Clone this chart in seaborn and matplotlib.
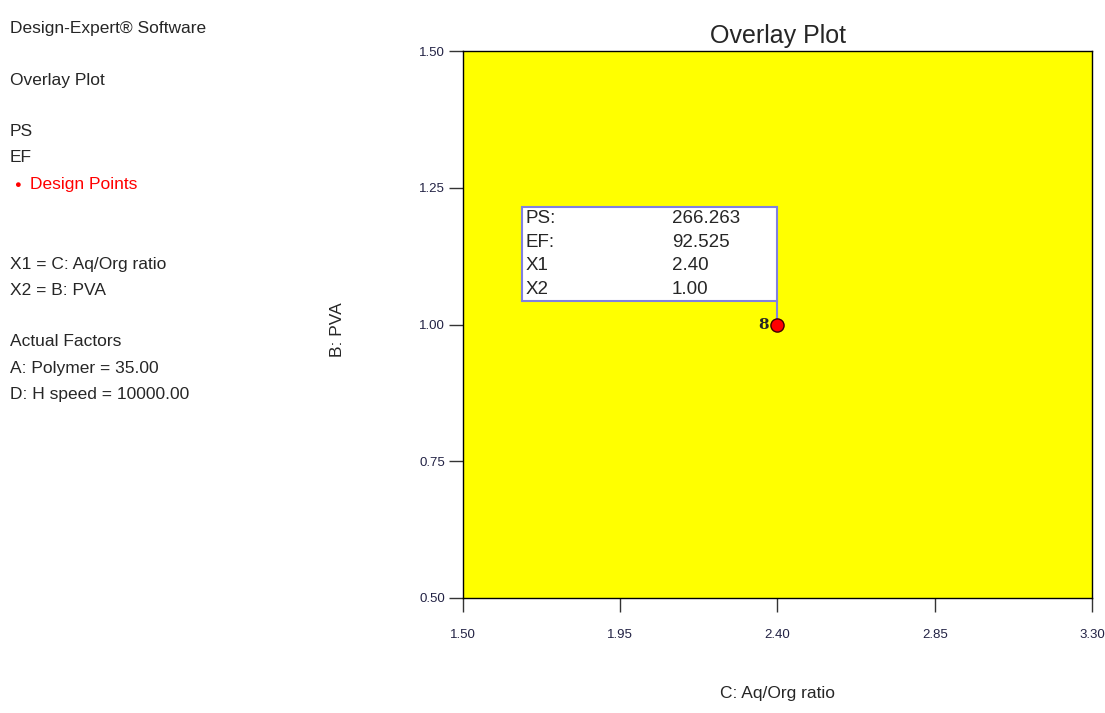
import numpy as np
import pandas as pd
import matplotlib
matplotlib.use("Agg")
import matplotlib.pyplot as plt
import matplotlib.font_manager as fm
import seaborn as sns
from matplotlib.patches import Rectangle

# data
DESIGN_X      = [2.40]
DESIGN_Y      = [1.00]
DESIGN_LABELS = ["8"]
X_TICKS = [1.50, 1.95, 2.40, 2.85, 3.30]
Y_TICKS = [0.50, 0.75, 1.00, 1.25, 1.50]
BOX_NAMES  = ["PS:", "EF:", "X1", "X2"]
BOX_VALUES = ["266.263", "92.525", "2.40", "1.00"]
SIDE_LINES = ["Design-Expert\u00ae Software", "", "Overlay Plot", "", "PS", "EF"]
FACTOR_LINES = ["X1 = C: Aq/Org ratio", "X2 = B: PVA", "",
                "Actual Factors", "A: Polymer = 35.00", "D: H speed = 10000.00"]

sns.set_style("white")
names = {f.name for f in fm.fontManager.ttflist}
FONT = "Liberation Sans Narrow" if "Liberation Sans Narrow" in names else "Liberation Sans"
plt.rcParams["font.family"] = [FONT, "DejaVu Sans"]
FS = 12.5

df = pd.DataFrame({"x": DESIGN_X, "y": DESIGN_Y, "label": DESIGN_LABELS})

fig = plt.figure(figsize=(11.05, 7.13), dpi=100)
ax = fig.add_axes([463 / 1105, 1 - 598 / 713, 629 / 1105, 547 / 713])
ax.set_facecolor("#FFFF00")
ax.set_xlim(X_TICKS[0], X_TICKS[-1])
ax.set_ylim(Y_TICKS[0], Y_TICKS[-1])
ax.set_xticks(X_TICKS)
ax.set_yticks(Y_TICKS)
ax.set_xticklabels([f"{v:.2f}" for v in X_TICKS], fontsize=9.5)
ax.set_yticklabels([f"{v:.2f}" for v in Y_TICKS], fontsize=9.5)
ax.tick_params(bottom=True, left=True, direction="out", length=10, width=1,
               color="#333333", labelcolor="#222244")
ax.tick_params(axis="x", pad=12)
ax.tick_params(axis="y", pad=3)
for s in ax.spines.values():
    s.set_visible(True)
    s.set_color("black")
    s.set_linewidth(1)

# annotation box + leader line down to the design point
bx0, bx1 = 1.669, DESIGN_X[0]
by0, by1 = 1.043, 1.215
ax.add_patch(Rectangle((bx0, by0), bx1 - bx0, by1 - by0, facecolor="white",
                       edgecolor="#8080E0", linewidth=1.5, zorder=3))
ax.plot([DESIGN_X[0], DESIGN_X[0]], [by0, DESIGN_Y[0]], color="#8080E0",
        lw=1.5, zorder=3)
row_h = (by1 - by0) / len(BOX_NAMES)
for i, (n, v) in enumerate(zip(BOX_NAMES, BOX_VALUES)):
    yy = by1 - row_h * (i + 0.5)
    ax.text(bx0 + 0.010, yy, n, fontsize=13.5, va="center", zorder=4)
    ax.text(2.098, yy, v, fontsize=13.5, va="center", zorder=4)

sns.scatterplot(data=df, x="x", y="y", ax=ax, marker="o", s=90,
                color="red", edgecolor="#400000", linewidth=1, zorder=5,
                legend=False)
for _, r in df.iterrows():
    ax.text(r["x"] - 0.025, r["y"], r["label"], fontsize=11, fontweight="bold",
            family="DejaVu Serif", ha="right", va="center", zorder=5)

ax.set_xlabel("C: Aq/Org ratio", fontsize=FS, labelpad=33)
ax.set_ylabel("")
fig.text(338 / 1105, 1 - 330 / 713, "B: PVA", rotation=90, fontsize=FS,
         ha="center", va="center")
ax.set_title("Overlay Plot", fontsize=18, pad=6)

# side legend text
y = 28
for line in SIDE_LINES:
    if line:
        fig.text(10 / 1105, 1 - y / 713, line, fontsize=FS, va="center")
    y += 26
fig.text(14 / 1105, 1 - 185 / 713, "\u25cf", fontsize=8, color="red",
         va="center")
fig.text(30 / 1105, 1 - 185 / 713, "Design Points", fontsize=FS, color="red",
         va="center")
y = 264
for line in FACTOR_LINES:
    if line:
        fig.text(10 / 1105, 1 - y / 713, line, fontsize=FS, va="center")
    y += 26

fig.savefig("out.png", dpi=100)
